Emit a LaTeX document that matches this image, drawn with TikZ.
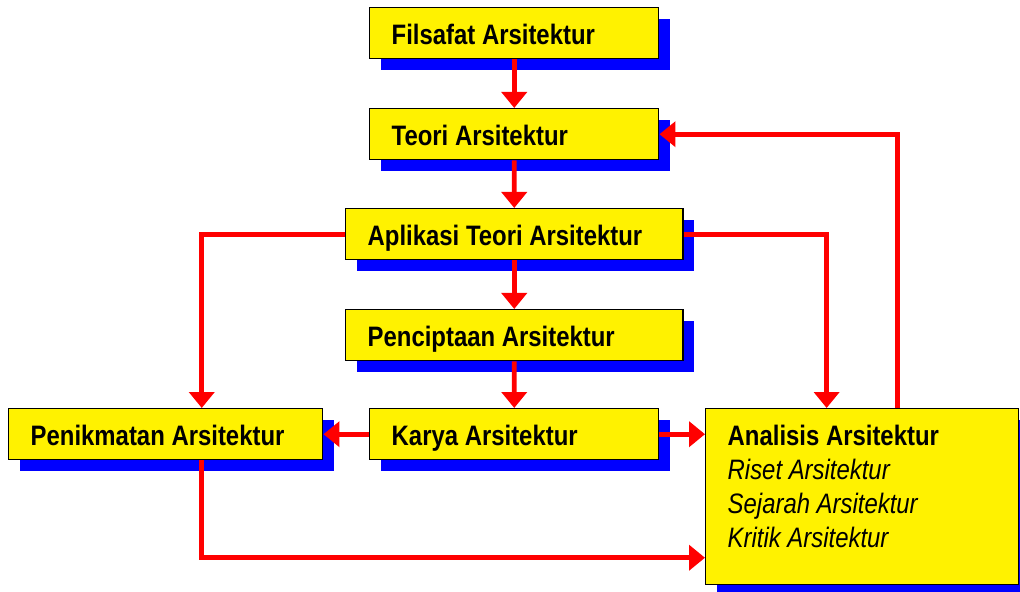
\documentclass[tikz,border=0pt]{standalone}
\usepackage{fontspec}
\setmainfont{Liberation Sans}[FakeStretch=0.85]
\usetikzlibrary{arrows.meta,shadows}

\begin{document}
\begin{tikzpicture}[x=0.025cm, y=-0.025cm,
  kotak/.style={draw=black, line width=1pt, fill=yellow, anchor=north west,
    align=flush left, inner xsep=0.55cm, font=\fontsize{20}{24.2}\selectfont,
    drop shadow={shadow xshift=0.28cm, shadow yshift=-0.28cm, fill=blue, opacity=1}},
  judul/.style={kotak, font=\fontsize{20}{24}\selectfont\bfseries,
    inner ysep=0pt, text height=0.925cm, text depth=0.35cm},
  panah/.style={red, line width=3.5pt, -{Triangle[length=0.4cm, width=0.625cm]}}]
  \useasboundingbox (0,0) rectangle (1020,592);

  \node[judul, text width=6.125cm] (filsafat) at (369,7) {Filsafat Arsitektur};
  \node[judul, text width=6.125cm] (teori) at (369,108) {Teori Arsitektur};
  \node[judul, text width=7.325cm] (aplikasi) at (345,208) {Aplikasi Teori Arsitektur};
  \node[judul, text width=7.325cm] (cipta) at (345,309) {Penciptaan Arsitektur};
  \node[judul, text width=6.75cm] (nikmat) at (8,408) {Penikmatan Arsitektur};
  \node[judul, text width=6.125cm] (karya) at (369,408) {Karya Arsitektur};
  \node[kotak, text width=6.725cm, minimum height=4.4cm] (analisis) at (705,408)
    {\textbf{Analisis Arsitektur}\\ \textit{Riset Arsitektur}\\
     \textit{Sejarah Arsitektur}\\ \textit{Kritik Arsitektur}\rule[-0.515cm]{0pt}{0pt}};

  % alur utama
  \draw[panah] (filsafat) -- (teori);
  \draw[panah] (teori) -- (aplikasi);
  \draw[panah] (aplikasi) -- (cipta);
  \draw[panah] (cipta) -- (karya);
  \draw[panah] (karya) -- (nikmat);
  \draw[panah] (karya.east) -- (karya.east -| analisis.west);

  % cabang samping
  \draw[panah] (aplikasi.west) -| ([xshift=0.9cm]nikmat.north);
  \draw[panah] (aplikasi.east) -| ([xshift=-0.89cm]analisis.north);
  \draw[panah] ([xshift=0.89cm]analisis.north) |- (teori.east);
  \draw[panah] ([xshift=0.9cm]nikmat.south) |- ([yshift=-1.525cm]analisis.west);
\end{tikzpicture}
\end{document}
